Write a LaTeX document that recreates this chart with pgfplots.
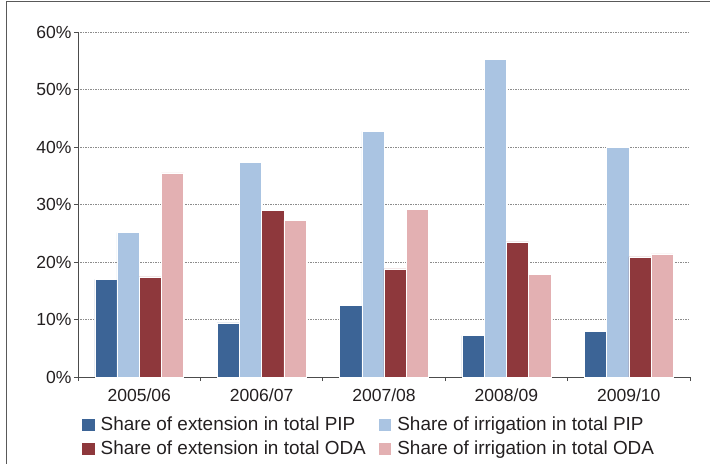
\documentclass[border=0pt]{standalone}
\usepackage{pgfplots}
\pgfplotsset{compat=1.18}
\usepackage{fontspec}
\setmainfont{Liberation Sans}
\definecolor{c1}{HTML}{3C6496}
\definecolor{c2}{HTML}{AAC4E2}
\definecolor{c3}{HTML}{8E383C}
\definecolor{c4}{HTML}{E3B0B2}
\definecolor{txt}{HTML}{231F20}
\pgfplotsset{sqlegend/.style={legend image code/.code={\fill[##1] (0bp,-6.5bp) rectangle (13.5bp,6.5bp);}}}
\begin{document}
\begin{tikzpicture}
\useasboundingbox (-78bp,-87bp) rectangle (632bp,377bp);
\draw[color=black!65, line width=1.3bp] (-71.5bp,-90bp) -- (-71.5bp,375.5bp) -- (635bp,375.5bp);
\begin{axis}[
  scale only axis, width=612bp, height=345bp,
  ybar=0pt, bar width=22.2bp,
  xmin=-0.5, xmax=4.5, ymin=0, ymax=60,
  ytick={0,10,...,60},
  yticklabel={\pgfmathprintnumber{\tick}\%},
  xtick={0,...,4},
  xticklabels={2005/06,2006/07,2007/08,2008/09,2009/10},
  minor xtick={-0.5,0.5,...,4.5},
  /pgf/number format/assume math mode=true,
  axis x line*=bottom, axis y line*=left,
  axis line style={black!70, line width=0.9bp, -},
  tick align=outside,
  major tick length=4bp, minor tick length=4bp,
  major x tick style={draw=none},
  minor x tick style={black!70, line width=0.9bp},
  y tick style={black!70, line width=0.9bp},
  ymajorgrids,
  major y grid style={black!45, line width=0.6bp, dash pattern=on 1.5bp off 1bp},
  tick label style={font=\fontsize{17.6}{20}\selectfont, text=txt},
  xticklabel style={yshift=-4bp},
  yticklabel style={xshift=1bp},
  legend columns=2,
  legend cell align=left,
  legend style={at={(0,0)}, anchor=north west, xshift=3bp, yshift=-38bp,
    draw=none, fill=none, inner sep=0pt,
    font=\fontsize{19}{22}\selectfont, text=txt,
    nodes={inner sep=1bp, text height=14bp, text depth=4bp},
    /tikz/every odd column/.append style={column sep=4.5bp},
    /tikz/every even column/.append style={column sep=11bp},
    row sep=4bp},
]
\addplot[fill=c1, draw=white, line width=0.5bp, sqlegend] coordinates {(0,17.0) (1,9.4) (2,12.5) (3,7.2) (4,7.9)};
\addplot[fill=c2, draw=white, line width=0.5bp, sqlegend] coordinates {(0,25.1) (1,37.3) (2,42.7) (3,55.3) (4,39.9)};
\addplot[fill=c3, draw=white, line width=0.5bp, sqlegend] coordinates {(0,17.4) (1,29.0) (2,18.8) (3,23.5) (4,20.9)};
\addplot[fill=c4, draw=white, line width=0.5bp, sqlegend] coordinates {(0,35.5) (1,27.3) (2,29.1) (3,17.8) (4,21.4)};
\legend{Share of extension in total PIP, Share of irrigation in total PIP, Share of extension in total ODA, Share of irrigation in total ODA}
\end{axis}
\end{tikzpicture}
\end{document}
